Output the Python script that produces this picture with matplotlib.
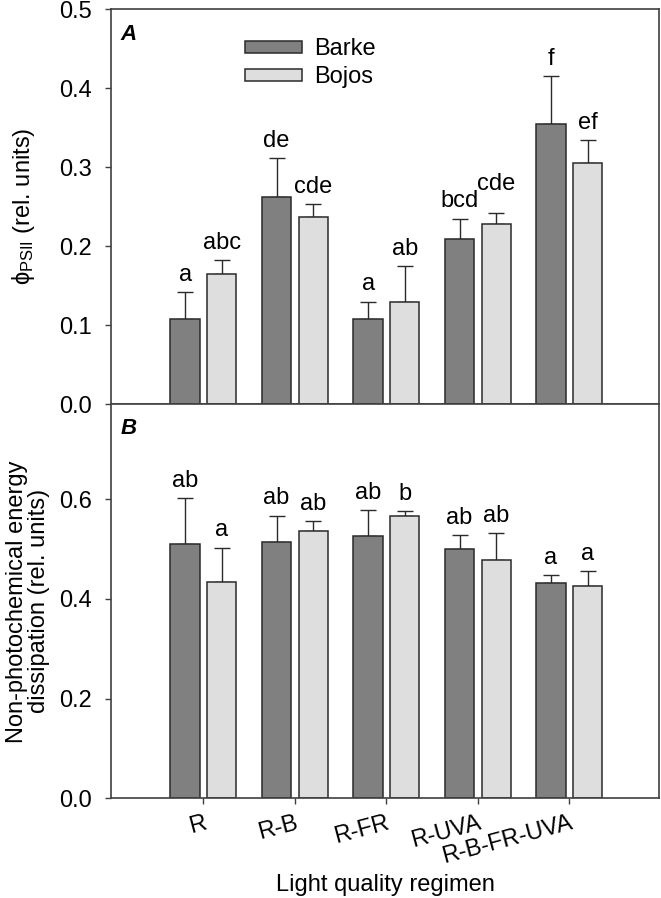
import matplotlib
matplotlib.use("Agg")
import matplotlib.pyplot as plt
import numpy as np

plt.rcParams['font.family'] = ['Liberation Sans', 'DejaVu Sans']
plt.rcParams['mathtext.fontset'] = 'custom'
plt.rcParams['mathtext.rm'] = 'Liberation Sans'
plt.rcParams['mathtext.it'] = 'Liberation Sans:italic'
plt.rcParams['mathtext.default'] = 'regular'

categories = ["R", "R-B", "R-FR", "R-UVA", "R-B-FR-UVA"]
series = ["Barke", "Bojos"]

# Panel A: phi PSII
phi_barke = [0.1075, 0.262, 0.1075, 0.209, 0.355]
phi_barke_err = [0.034, 0.049, 0.0225, 0.026, 0.060]
phi_bojos = [0.165, 0.237, 0.129, 0.228, 0.3056]
phi_bojos_err = [0.017, 0.016, 0.046, 0.0135, 0.029]
phi_barke_letters = ["a", "de", "a", "bcd", "f"]
phi_bojos_letters = ["abc", "cde", "ab", "cde", "ef"]

# Panel B: non-photochemical energy dissipation
npq_barke = [0.509, 0.513, 0.525, 0.499, 0.431]
npq_barke_err = [0.093, 0.054, 0.053, 0.029, 0.0165]
npq_bojos = [0.4347, 0.535, 0.567, 0.477, 0.426]
npq_bojos_err = [0.068, 0.021, 0.009, 0.054, 0.029]
npq_barke_letters = ["ab", "ab", "ab", "ab", "a"]
npq_bojos_letters = ["a", "ab", "b", "ab", "a"]

dark = "#808080"
light = "#dedede"
edge = "#2a2a2a"
spine_c = "#404040"

fig = plt.figure(figsize=(6.61, 8.98), dpi=100)
W, H = 661, 898
left = 111 / W
width = (659 - 111) / W
axA = fig.add_axes([left, 1 - 404.3 / H, width, (404.3 - 9) / H])
axB = fig.add_axes([left, 1 - 798.3 / H, width, (798.3 - 404.3) / H])

x = np.arange(1, len(categories) + 1)
off = 0.2
bw = 0.32
xlim = (-0.01, 5.98)


def draw(ax, b, be, j, je, bl, jl, ylim, yticks, raise_j=None):
    raise_j = raise_j or {}
    ax.bar(x - off, b, bw, color=dark, edgecolor=edge, linewidth=1.1, label=series[0], zorder=2)
    ax.bar(x + off, j, bw, color=light, edgecolor=edge, linewidth=1.1, label=series[1], zorder=2)
    ax.errorbar(x - off, b, yerr=[np.zeros(len(be)), be], fmt='none', ecolor=edge,
                elinewidth=1.0, capsize=5.5, capthick=1.0, zorder=1)
    ax.errorbar(x + off, j, yerr=[np.zeros(len(je)), je], fmt='none', ecolor=edge,
                elinewidth=1.0, capsize=5.5, capthick=1.0, zorder=1)
    for i in range(len(x)):
        ax.annotate(bl[i], (x[i] - off, b[i] + be[i]), xytext=(0, 4.5), textcoords='offset points',
                    ha='center', va='bottom', fontsize=17)
        ax.annotate(jl[i], (x[i] + off, j[i] + je[i]), xytext=(0, 4.5 + raise_j.get(i, 0)),
                    textcoords='offset points', ha='center', va='bottom', fontsize=17)
    ax.set_xlim(*xlim)
    ax.set_ylim(*ylim)
    ax.set_yticks(yticks)
    ax.set_yticklabels([f"{t:.1f}" for t in yticks], fontsize=17)
    ax.set_xticks(x)
    for s in ax.spines.values():
        s.set_color(spine_c)
        s.set_linewidth(1.2)
    ax.tick_params(axis='both', direction='out', length=4, width=1, color=spine_c)
    ax.tick_params(axis='y', pad=10)


draw(axA, phi_barke, phi_barke_err, phi_bojos, phi_bojos_err,
     phi_barke_letters, phi_bojos_letters, (0, 0.5), [0.0, 0.1, 0.2, 0.3, 0.4, 0.5],
     raise_j={3: 9})
draw(axB, npq_barke, npq_barke_err, npq_bojos, npq_bojos_err,
     npq_barke_letters, npq_bojos_letters, (0, 0.79), [0.0, 0.2, 0.4, 0.6])

axA.set_xticklabels([])
axB.set_xticklabels(categories, rotation=15, ha='right', rotation_mode='anchor', fontsize=17)
axB.tick_params(axis='x', pad=6)

axA.set_ylabel(r"$\phi_{PSII}$ (rel. units)", fontsize=17, labelpad=16)
axB.set_ylabel("Non-photochemical energy\ndissipation (rel. units)", fontsize=17, labelpad=6,
               linespacing=1.0)
axB.set_xlabel("Light quality regimen", fontsize=17, labelpad=4)

axA.text(0.017, 0.962, "A", transform=axA.transAxes, fontsize=16, fontweight='bold',
         fontstyle='italic', ha='left', va='top')
axB.text(0.017, 0.965, "B", transform=axB.transAxes, fontsize=16, fontweight='bold',
         fontstyle='italic', ha='left', va='top')

axA.legend(loc='upper left', bbox_to_anchor=(0.228, 0.95), frameon=False, fontsize=17,
           handlelength=2.4, handleheight=0.4, handletextpad=0.5, labelspacing=0.25,
           borderaxespad=0)

fig.savefig("out.png", dpi=100)
